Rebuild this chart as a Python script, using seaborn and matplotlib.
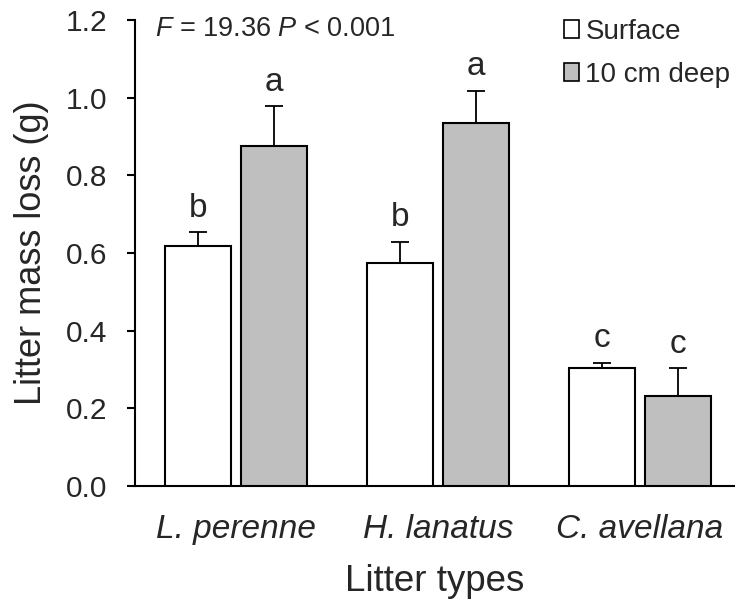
import matplotlib
matplotlib.use("Agg")
import matplotlib.pyplot as plt
import seaborn as sns
import pandas as pd
from matplotlib.patches import Patch

# ---- data ----
litter_types = ["L. perenne", "H. lanatus", "C. avellana"]
depths = ["Surface", "10 cm deep"]
surface_mean = [0.618, 0.574, 0.305]
surface_se = [0.036, 0.055, 0.013]
deep_mean = [0.875, 0.935, 0.232]
deep_se = [0.103, 0.083, 0.071]
surface_letters = ["b", "b", "c"]
deep_letters = ["a", "a", "c"]
stat_text = r"$F$ = 19.36 $P$ < 0.001"
y_ticks = [0.0, 0.2, 0.4, 0.6, 0.8, 1.0, 1.2]

df = pd.DataFrame({
    "litter": litter_types * 2,
    "depth": [depths[0]] * 3 + [depths[1]] * 3,
    "loss": surface_mean + deep_mean,
})
se_by_depth = {depths[0]: surface_se, depths[1]: deep_se}
letters_by_depth = {depths[0]: surface_letters, depths[1]: deep_letters}

sns.set_style("white")
plt.rcParams["font.family"] = ["Liberation Sans", "DejaVu Sans"]
plt.rcParams["mathtext.fontset"] = "custom"
plt.rcParams["mathtext.rm"] = "Liberation Sans"
plt.rcParams["mathtext.it"] = "Liberation Sans:italic"

colors = ["white", "#BFBFBF"]

fig = plt.figure(figsize=(7.35, 6.05), dpi=100)
ax = fig.add_axes([135 / 735, 119 / 605, 600 / 735, 466 / 605])

sns.barplot(data=df, x="litter", y="loss", hue="depth", order=litter_types,
            hue_order=depths, palette=colors, edgecolor="black", linewidth=1.5,
            width=0.754, gap=0.13, errorbar=None, ax=ax, legend=False, zorder=3)

for cont, d in zip(ax.containers, depths):
    for patch, se, let in zip(cont.patches, se_by_depth[d], letters_by_depth[d]):
        xc = patch.get_x() + patch.get_width() / 2
        top = patch.get_height()
        ax.errorbar(xc, top, yerr=[[0], [se]], fmt="none", ecolor="black",
                    elinewidth=1.3, capsize=6.5, capthick=1.3, zorder=2)
        ax.annotate(let, (xc, top + se), xytext=(0, 11), textcoords="offset points",
                    ha="center", va="baseline", fontsize=24)

ax.set_xlim(-0.5, 2.47)
ax.set_ylim(0, 1.2)
ax.set_yticks(y_ticks)
ax.set_yticklabels([f"{t:.1f}" for t in y_ticks])
for s in ["top", "right"]:
    ax.spines[s].set_visible(False)
for s in ["left", "bottom"]:
    ax.spines[s].set_linewidth(1.5)
    ax.spines[s].set_color("black")
ax.tick_params(axis="y", length=6, width=1.5, pad=14, labelsize=21.5, left=True, color="black")
ax.tick_params(axis="x", length=0, pad=20, labelsize=24)
for lab in ax.get_xticklabels():
    lab.set_fontstyle("italic")

ax.set_xlabel("Litter types", fontsize=26.5, labelpad=14)
ax.set_ylabel("Litter mass loss (g)", fontsize=26, labelpad=12)

ax.text(0.033, 0.965, stat_text, transform=ax.transAxes, fontsize=19.5,
        ha="left", va="baseline")

handles = [Patch(facecolor=c, edgecolor="black", linewidth=1.2) for c in colors]
ax.legend(handles, depths, loc="upper left", bbox_to_anchor=(0.715, 1.002),
          frameon=False, fontsize=20, handlelength=0.55, handleheight=0.6,
          handletextpad=0.22, labelspacing=0.6, borderpad=0, borderaxespad=0)

fig.savefig("out.png", dpi=100)
